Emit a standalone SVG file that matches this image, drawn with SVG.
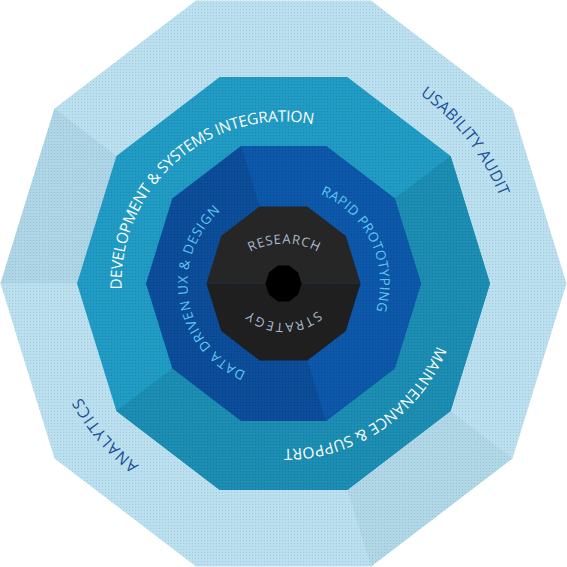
<svg xmlns="http://www.w3.org/2000/svg" width="567" height="567" viewBox="0 0 567 567">
<style>
.lbl{font-family:"Open Sans",Lato,"Liberation Sans",sans-serif;font-weight:400;}
.outer-t{fill:#1c4f9c;font-size:16px;}
.teal-t{fill:#ffffff;font-size:15.5px;}
.blue-t{fill:#5ec9f2;font-size:13.5px;}
.core-t{fill:#a9b9cf;font-size:13px;}
</style>
<defs>
<pattern id="tex" width="3" height="3" patternUnits="userSpaceOnUse">
<rect x="0" y="0" width="1" height="1" fill="#000" fill-opacity="0.10"/>
<rect x="1.5" y="1.5" width="1" height="1" fill="#fff" fill-opacity="0.06"/>
</pattern>
<path id="pUsab" d="M250.9,52.8 A233,233 0 0 1 499.6,370.6" fill="none"/>
<path id="pAnal" d="M325.4,511.7 A232,232 0 0 1 64.9,205.7" fill="none"/>
<path id="pDev" d="M132.0,340.9 A162,162 0 0 1 362.7,142.2" fill="none"/>
<path id="pMaint" d="M444.1,243.5 A165.5,165.5 0 0 1 186.2,417.4" fill="none"/>
<path id="pData" d="M265.2,377.7 A96,96 0 0 1 237.0,199.5" fill="none"/>
<path id="pRapid" d="M274.25,187.4 A96.5,96.5 0 0 1 352.3,351.1" fill="none"/>
<path id="pRes" d="M238.3,259.9 A72,72 0 0 1 329.7,259.9" fill="none"/>
<path id="pStrat" d="M333.8,288.1 A53,53 0 0 1 234.2,288.1" fill="none"/>
</defs>

<g id="ring-outer">
<polygon points="566.5,283.5 512.5,458.4 371,566.5 196,566.5 54.5,458.4 0.5,283.5 54.5,108.6 196,0.5 371,0.5 512.5,108.6" fill="#bae0ef"/>
<polygon points="0.5,283.5 54.5,108.6 116.4,155.9 77,283.5" fill="#add5e6"/>
<polygon points="512.5,458.4 371,566.5 347.3,490 450.6,411.1" fill="#b0d7e7"/>
<text class="lbl outer-t"><textPath href="#pUsab" startOffset="50%" text-anchor="middle" textLength="131" lengthAdjust="spacing">USABILITY AUDIT</textPath></text>
<text class="lbl outer-t"><textPath href="#pAnal" startOffset="50%" text-anchor="middle" textLength="90" lengthAdjust="spacing">ANALYTICS</textPath></text>
</g>

<g id="ring-teal">
<polygon points="490,283.5 450.6,411.1 347.3,490 219.7,490 116.4,411.1 77,283.5 116.4,155.9 219.7,77 347.3,77 450.6,155.9" fill="#1e9ac3"/>
<polygon points="450.6,155.9 490,283.5 450.6,411.1 347.3,490 219.7,490 116.4,411.1 172.3,368.5 241,421 326,421 394.7,368.5 421,283.5 394.7,198.5" fill="#1a8cb1"/>
<text class="lbl teal-t"><textPath href="#pDev" startOffset="50%" text-anchor="middle" textLength="290" lengthAdjust="spacing">DEVELOPMENT &amp; SYSTEMS INTEGRATION</textPath></text>
<text class="lbl teal-t"><textPath href="#pMaint" startOffset="50%" text-anchor="middle" textLength="196" lengthAdjust="spacing">MAINTENANCE &amp; SUPPORT</textPath></text>
</g>

<g id="ring-blue">
<polygon points="421,283.5 394.7,368.5 326,421 241,421 172.3,368.5 146,283.5 172.3,198.5 241,146 326,146 394.7,198.5" fill="#0a4b98"/>
<polygon points="241,146 326,146 394.7,198.5 421,283.5 394.7,368.5 326,421 307.3,360.5 345.8,331.1 360.5,283.5 345.8,235.9 307.3,206.5 259.7,206.5" fill="#0b56a9"/>
<text class="lbl blue-t"><textPath href="#pData" startOffset="50%" text-anchor="middle" textLength="194" lengthAdjust="spacing">DATA DRIVEN UX &amp; DESIGN</textPath></text>
<text class="lbl blue-t"><textPath href="#pRapid" startOffset="50%" text-anchor="middle" textLength="141" lengthAdjust="spacing">RAPID PROTOTYPING</textPath></text>
</g>

<polygon points="566.5,283.5 512.5,458.4 371,566.5 196,566.5 54.5,458.4 0.5,283.5 54.5,108.6 196,0.5 371,0.5 512.5,108.6" fill="url(#tex)" pointer-events="none"/>

<g id="core">
<polygon points="360.5,283.5 345.8,235.9 307.3,206.5 259.7,206.5 221.2,235.9 206.5,283.5" fill="#262626"/>
<polygon points="360.5,283.5 345.8,331.1 307.3,360.5 259.7,360.5 221.2,331.1 206.5,283.5" fill="#1f1f1f"/>
<polygon points="301.5,283.5 298.1,294.6 289.1,301.5 277.9,301.5 268.9,294.6 265.5,283.5 268.9,272.4 277.9,265.5 289.1,265.5 298.1,272.4" fill="#000"/>
<text class="lbl core-t"><textPath href="#pRes" startOffset="50%" text-anchor="middle" textLength="70" lengthAdjust="spacing">RESEARCH</textPath></text>
<text class="lbl core-t"><textPath href="#pStrat" startOffset="50%" text-anchor="middle" textLength="73" lengthAdjust="spacing">STRATEGY</textPath></text>
</g>
</svg>
